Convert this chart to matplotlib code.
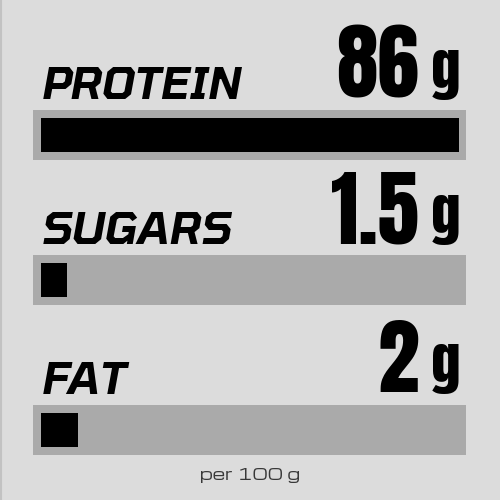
import matplotlib
matplotlib.use("Agg")
import matplotlib.pyplot as plt

# ---- data ----
nutrients = ["PROTEIN", "SUGARS", "FAT"]
amounts = ["86", "1.5", "2"]
unit = "g"
fill_pct = [100.0, 6.2, 8.9]   # visual fill of each gauge, % of track
footnote = "per 100 g"

# ---- styling / layout (pixel space, 500x500) ----
BG = "#dcdcdc"
TRACK = "#aaaaaa"
FILL = "#000000"
W = H = 500
row_center = [135, 280, 429.5]     # centre of each gauge track
track_left, track_w, track_h = 33, 433, 50
fill_left, fill_full, fill_h = 41, 418, 34
baseline_offset = 36               # from track centre up to text baseline

LABEL_FONT = ["Tomorrow", "DejaVu Sans"]
NUM_FONT = ["Anton", "DejaVu Sans"]
NOTE_FONT = ["Michroma", "DejaVu Sans"]

fig = plt.figure(figsize=(5, 5), dpi=100, facecolor=BG)
ax = fig.add_axes([0, 0, 1, 1])
ax.set_facecolor(BG)
ax.set_xlim(0, W)
ax.set_ylim(H, 0)
ax.axis("off")

# faint left edge
ax.axvline(0.8, color="#c2c2c2", lw=1.5)

# tracks
ax.barh(row_center, [track_w] * len(nutrients), left=track_left,
        height=track_h, color=TRACK, edgecolor="none")
# fills
ax.barh(row_center, [fill_full * p / 100 for p in fill_pct], left=fill_left,
        height=fill_h, color=FILL, edgecolor="none")

for yc, name, amt in zip(row_center, nutrients, amounts):
    base = yc - baseline_offset
    ax.text(40, base, name, ha="left", va="baseline",
            family=LABEL_FONT, weight=600, style="italic",
            fontsize=32, color="black")
    ax.text(419, base - 1, amt, ha="right", va="baseline",
            family=NUM_FONT, fontsize=60, color="black")
    ax.text(431, base + 1, unit, ha="left", va="bottom",
            family=NUM_FONT, fontsize=42, color="black")

ax.text(250, 480, footnote, ha="center", va="baseline",
        family=NOTE_FONT, fontsize=11.5, weight="bold", color="#383838")

fig.savefig("out.png", dpi=100, facecolor=BG)
